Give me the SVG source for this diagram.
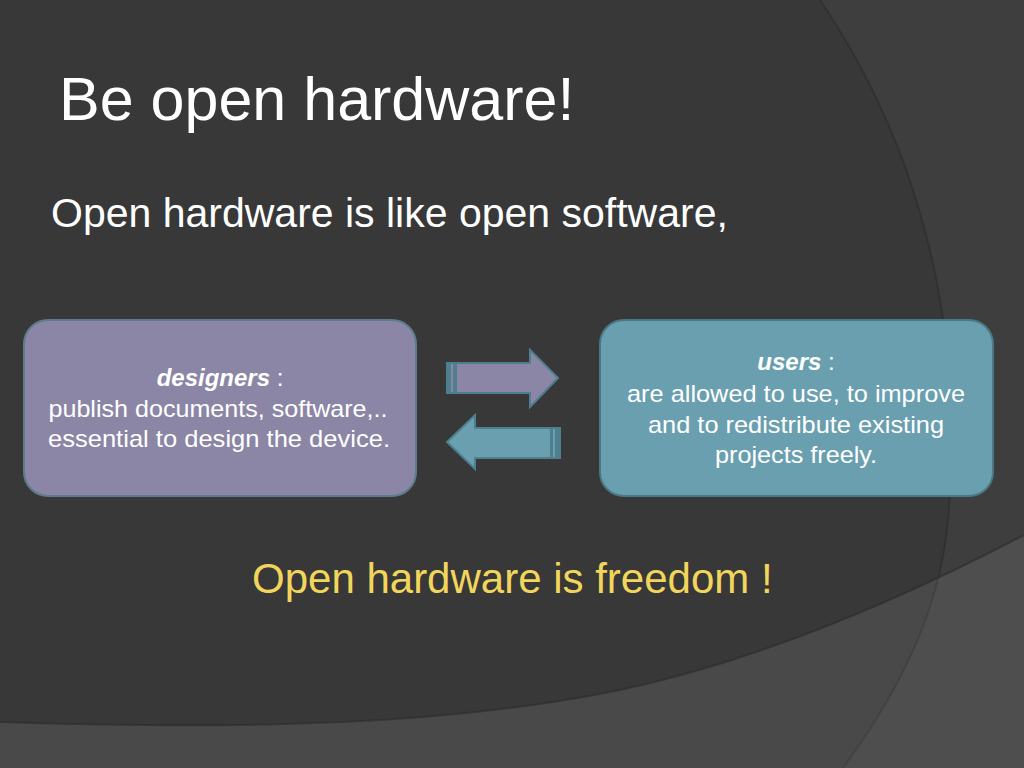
<svg xmlns="http://www.w3.org/2000/svg" width="1024" height="768" viewBox="0 0 1024 768">
<style>
.t{font-family:"Liberation Sans",Arial,Helvetica,sans-serif;fill:#ffffff}
.bx{font-size:24px;text-anchor:middle}
.em{font-weight:bold;font-style:italic}
.edge{fill:none;stroke:#2c2c2c;stroke-width:2;stroke-opacity:0.6}
</style>
<g id="background">
<rect x="0" y="0" width="1024" height="768" fill="#383838"/>
<path d="M820,0 C922,150 965,330 948,520 C940,610 900,690 843,768 L1024,768 L1024,0 Z" fill="#ffffff" fill-opacity="0.03"/>
<path d="M820,0 C922,150 965,330 948,520 C940,610 900,690 843,768" class="edge"/>
<path d="M0,722 C250,730 450,725 620,690 C760,660 900,600 1024,535 L1024,768 L0,768 Z" fill="#ffffff" fill-opacity="0.085"/>
<path d="M0,722 C250,730 450,725 620,690 C760,660 900,600 1024,535" class="edge"/>
</g>
<g id="title">
<text class="t" x="59" y="120" font-size="61">Be open hardware!</text>
</g>
<g id="subtitle">
<text class="t" x="51" y="227" font-size="41">Open hardware is like open software,</text>
</g>
<g id="designers">
<rect x="24" y="320" width="392" height="176" rx="24" ry="24" fill="#8b86a5" stroke="#5b7c89" stroke-width="2"/>
<text class="t bx" x="220" y="386"><tspan class="em">designers</tspan> :</text>
<text class="t bx" x="218" y="417" textLength="339" lengthAdjust="spacingAndGlyphs">publish documents, software,..</text>
<text class="t bx" x="219" y="447" textLength="342" lengthAdjust="spacingAndGlyphs">essential to design the device.</text>
</g>
<g id="users">
<rect x="600" y="320" width="393" height="176" rx="24" ry="24" fill="#6a9faf" stroke="#4b7886" stroke-width="2"/>
<text class="t bx" x="796" y="370"><tspan class="em">users</tspan> :</text>
<text class="t bx" x="796" y="402" textLength="338" lengthAdjust="spacingAndGlyphs">are allowed to use, to improve</text>
<text class="t bx" x="796" y="433" textLength="296" lengthAdjust="spacingAndGlyphs">and to redistribute existing</text>
<text class="t bx" x="796" y="463" textLength="162" lengthAdjust="spacingAndGlyphs">projects freely.</text>
</g>
<g id="connectors">
<g id="arrow-right">
<polygon points="447,363 530,363 530,350 558,378 530,407 530,393 447,393" fill="#8b86a5" stroke="#4d7f8f" stroke-width="2"/>
<rect x="447" y="363" width="4" height="30" fill="#4d7f8f"/>
<rect x="453" y="363" width="4" height="30" fill="#4d7f8f"/>
</g>
<g id="arrow-left">
<polygon points="560,428 475,428 475,415 447,442 475,469 475,458 560,458" fill="#6a9faf" stroke="#4d7f8f" stroke-width="2"/>
<rect x="550" y="428" width="3" height="30" fill="#4d7f8f"/>
<rect x="555" y="428" width="5" height="30" fill="#4d7f8f"/>
</g>
</g>
<g id="conclusion">
<text class="t" x="252" y="593" font-size="42" style="fill:#f2d65c">Open hardware is freedom !</text>
</g>
</svg>
